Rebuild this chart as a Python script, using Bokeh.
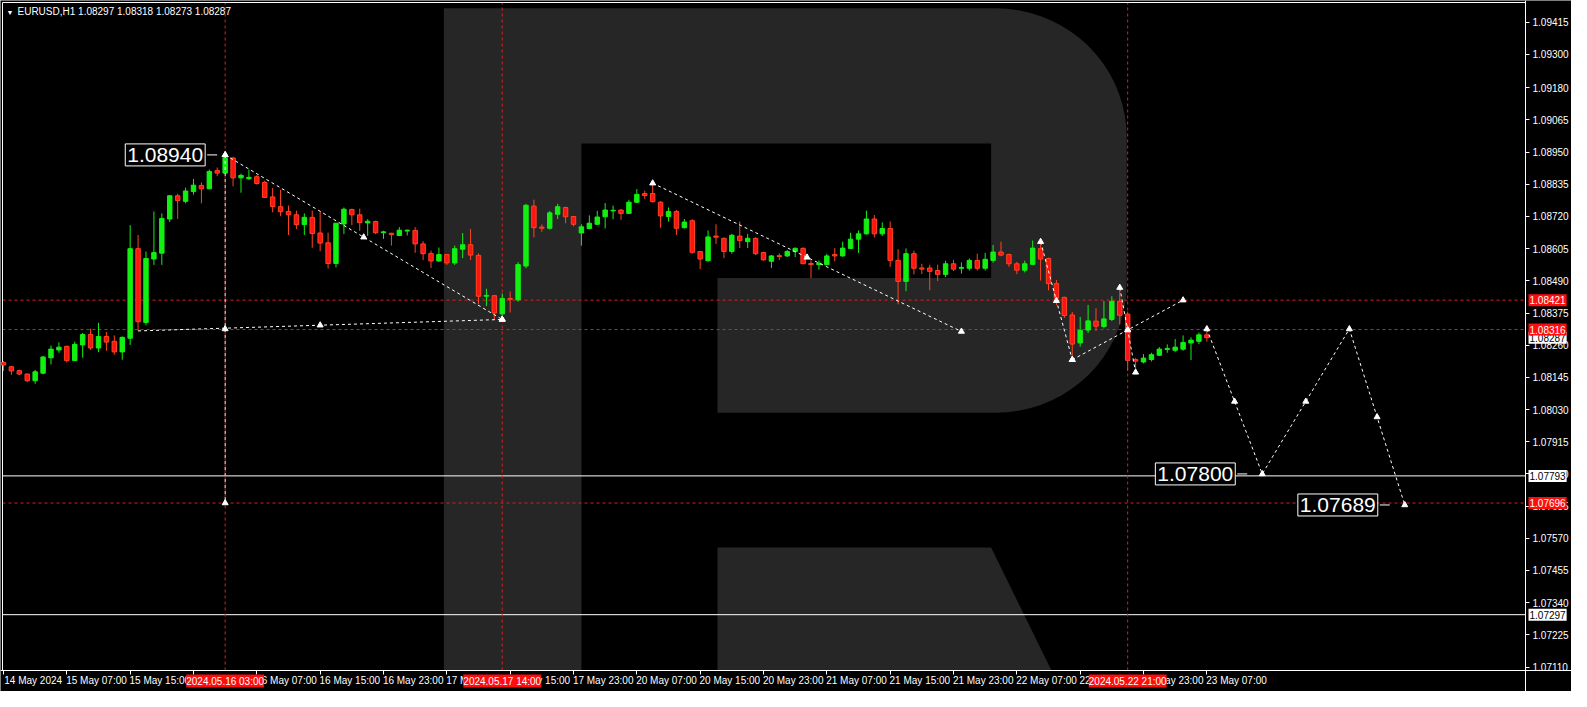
import math
from bokeh.plotting import figure
from bokeh.models import Range1d, LinearAxis, FixedTicker, Label
from bokeh.embed import file_html
from bokeh.resources import INLINE

# ---------------- data ----------------
symbol_title = "EURUSD,H1  1.08297 1.08318 1.08273 1.08287"

opens = [1.08198, 1.08183, 1.08169, 1.08157, 1.08133, 1.08160, 1.08215, 1.08243, 1.08256, 1.08205,
         1.08261, 1.08298, 1.08250, 1.08291, 1.08274, 1.08236, 1.08285, 1.08605, 1.08341, 1.08568,
         1.08589, 1.08711, 1.08794, 1.08774, 1.08809, 1.08831, 1.08819, 1.08884, 1.08875, 1.08929,
         1.08858, 1.08855, 1.08862, 1.08842, 1.08790, 1.08755, 1.08738, 1.08726, 1.08691, 1.08717,
         1.08661, 1.08626, 1.08552, 1.08693, 1.08745, 1.08726, 1.08697, 1.08702, 1.08662, 1.08660,
         1.08652, 1.08668, 1.08670, 1.08622, 1.08588, 1.08561, 1.08584, 1.08554, 1.08603, 1.08619,
         1.08581, 1.08435, 1.08437, 1.08372, 1.08427, 1.08422, 1.08543, 1.08757, 1.08682, 1.08678,
         1.08728, 1.08752, 1.08720, 1.08661, 1.08677, 1.08692, 1.08719, 1.08740, 1.08743, 1.08731,
         1.08771, 1.08802, 1.08802, 1.08771, 1.08720, 1.08738, 1.08680, 1.08705, 1.08595, 1.08562,
         1.08650, 1.08642, 1.08595, 1.08650, 1.08630, 1.08642, 1.08591, 1.08560, 1.08580, 1.08579,
         1.08595, 1.08606, 1.08552, 1.08548, 1.08548, 1.08584, 1.08579, 1.08606, 1.08639, 1.08658,
         1.08711, 1.08658, 1.08677, 1.08563, 1.08488, 1.08587, 1.08536, 1.08536, 1.08527, 1.08513,
         1.08551, 1.08535, 1.08535, 1.08563, 1.08535, 1.08563, 1.08593, 1.08584, 1.08551, 1.08528,
         1.08549, 1.08605, 1.08570, 1.08480, 1.08431, 1.08368, 1.08268, 1.08314, 1.08346, 1.08327,
         1.08352, 1.08417, 1.08371, 1.08209, 1.08200, 1.08209, 1.08224, 1.08245, 1.08242, 1.08246,
         1.08268, 1.08274, 1.08297]
highs = [1.08203, 1.08186, 1.08173, 1.08159, 1.08172, 1.08221, 1.08259, 1.08270, 1.08258, 1.08273,
         1.08304, 1.08319, 1.08340, 1.08307, 1.08295, 1.08291, 1.08689, 1.08654, 1.08595, 1.08738,
         1.08731, 1.08797, 1.08801, 1.08823, 1.08854, 1.08842, 1.08888, 1.08895, 1.08940, 1.08933,
         1.08873, 1.08887, 1.08868, 1.08848, 1.08822, 1.08815, 1.08759, 1.08741, 1.08731, 1.08741,
         1.08738, 1.08662, 1.08696, 1.08752, 1.08748, 1.08748, 1.08710, 1.08705, 1.08669, 1.08662,
         1.08682, 1.08673, 1.08682, 1.08632, 1.08598, 1.08609, 1.08586, 1.08616, 1.08661, 1.08675,
         1.08588, 1.08462, 1.08440, 1.08445, 1.08452, 1.08557, 1.08765, 1.08780, 1.08692, 1.08740,
         1.08765, 1.08755, 1.08722, 1.08692, 1.08724, 1.08740, 1.08768, 1.08759, 1.08746, 1.08780,
         1.08818, 1.08812, 1.08839, 1.08775, 1.08752, 1.08743, 1.08711, 1.08710, 1.08597, 1.08670,
         1.08692, 1.08645, 1.08658, 1.08702, 1.08658, 1.08645, 1.08594, 1.08582, 1.08588, 1.08600,
         1.08610, 1.08610, 1.08563, 1.08563, 1.08587, 1.08607, 1.08630, 1.08662, 1.08670, 1.08741,
         1.08725, 1.08699, 1.08702, 1.08603, 1.08606, 1.08598, 1.08551, 1.08548, 1.08548, 1.08562,
         1.08565, 1.08556, 1.08570, 1.08587, 1.08590, 1.08618, 1.08630, 1.08587, 1.08558, 1.08562,
         1.08634, 1.08630, 1.08573, 1.08493, 1.08433, 1.08379, 1.08361, 1.08404, 1.08392, 1.08418,
         1.08435, 1.08466, 1.08380, 1.08214, 1.08228, 1.08233, 1.08253, 1.08263, 1.08282, 1.08295,
         1.08288, 1.08305, 1.08318]
lows = [1.08168, 1.08154, 1.08153, 1.08128, 1.08122, 1.08156, 1.08191, 1.08233, 1.08198, 1.08203,
        1.08215, 1.08243, 1.08235, 1.08240, 1.08226, 1.08208, 1.08261, 1.08311, 1.08331, 1.08547,
        1.08547, 1.08700, 1.08711, 1.08767, 1.08798, 1.08767, 1.08817, 1.08864, 1.08873, 1.08828,
        1.08805, 1.08850, 1.08834, 1.08788, 1.08735, 1.08721, 1.08654, 1.08675, 1.08654, 1.08608,
        1.08596, 1.08534, 1.08538, 1.08657, 1.08689, 1.08669, 1.08651, 1.08657, 1.08640, 1.08616,
        1.08650, 1.08652, 1.08590, 1.08564, 1.08536, 1.08558, 1.08547, 1.08547, 1.08571, 1.08564,
        1.08407, 1.08400, 1.08352, 1.08352, 1.08377, 1.08415, 1.08535, 1.08645, 1.08665, 1.08673,
        1.08711, 1.08696, 1.08685, 1.08616, 1.08675, 1.08690, 1.08677, 1.08710, 1.08708, 1.08729,
        1.08768, 1.08783, 1.08770, 1.08680, 1.08702, 1.08654, 1.08677, 1.08587, 1.08532, 1.08558,
        1.08622, 1.08571, 1.08587, 1.08607, 1.08607, 1.08582, 1.08562, 1.08536, 1.08564, 1.08575,
        1.08575, 1.08551, 1.08500, 1.08530, 1.08545, 1.08560, 1.08576, 1.08604, 1.08590, 1.08655,
        1.08645, 1.08650, 1.08540, 1.08406, 1.08453, 1.08513, 1.08514, 1.08456, 1.08489, 1.08503,
        1.08525, 1.08516, 1.08527, 1.08527, 1.08527, 1.08555, 1.08578, 1.08540, 1.08514, 1.08520,
        1.08546, 1.08491, 1.08456, 1.08403, 1.08357, 1.08208, 1.08255, 1.08303, 1.08311, 1.08320,
        1.08346, 1.08334, 1.08168, 1.08163, 1.08195, 1.08202, 1.08222, 1.08233, 1.08235, 1.08240,
        1.08207, 1.08264, 1.08273]
closes = [1.08189, 1.08168, 1.08157, 1.08133, 1.08165, 1.08218, 1.08246, 1.08253, 1.08205, 1.08263,
          1.08298, 1.08250, 1.08291, 1.08271, 1.08236, 1.08288, 1.08605, 1.08344, 1.08570, 1.08591,
          1.08713, 1.08794, 1.08777, 1.08811, 1.08832, 1.08819, 1.08881, 1.08875, 1.08929, 1.08858,
          1.08867, 1.08860, 1.08838, 1.08788, 1.08756, 1.08737, 1.08726, 1.08691, 1.08717, 1.08659,
          1.08625, 1.08552, 1.08696, 1.08746, 1.08726, 1.08698, 1.08703, 1.08662, 1.08665, 1.08656,
          1.08671, 1.08671, 1.08622, 1.08587, 1.08561, 1.08584, 1.08554, 1.08605, 1.08619, 1.08582,
          1.08435, 1.08438, 1.08375, 1.08427, 1.08424, 1.08548, 1.08760, 1.08680, 1.08678, 1.08733,
          1.08755, 1.08719, 1.08692, 1.08683, 1.08696, 1.08718, 1.08743, 1.08742, 1.08731, 1.08771,
          1.08799, 1.08795, 1.08773, 1.08722, 1.08738, 1.08678, 1.08700, 1.08592, 1.08568, 1.08647,
          1.08646, 1.08595, 1.08653, 1.08634, 1.08642, 1.08587, 1.08565, 1.08579, 1.08577, 1.08595,
          1.08606, 1.08551, 1.08548, 1.08553, 1.08579, 1.08579, 1.08607, 1.08639, 1.08658, 1.08711,
          1.08658, 1.08677, 1.08563, 1.08488, 1.08587, 1.08535, 1.08532, 1.08524, 1.08513, 1.08551,
          1.08532, 1.08538, 1.08563, 1.08535, 1.08567, 1.08593, 1.08582, 1.08551, 1.08528, 1.08551,
          1.08607, 1.08568, 1.08480, 1.08428, 1.08366, 1.08264, 1.08313, 1.08347, 1.08328, 1.08354,
          1.08417, 1.08367, 1.08206, 1.08203, 1.08214, 1.08226, 1.08246, 1.08248, 1.08253, 1.08270,
          1.08278, 1.08297, 1.08287]

time_tick_bars = [0, 8, 16, 24, 32, 40, 48, 56, 64, 72, 80, 88, 96, 104, 112, 120, 128, 136, 144, 152]
time_tick_labels = ["14 May 2024", "15 May 07:00", "15 May 15:00", "15 May 23:00", "16 May 07:00",
                    "16 May 15:00", "16 May 23:00", "17 May 07:00", "17 May 15:00", "17 May 23:00",
                    "20 May 07:00", "20 May 15:00", "20 May 23:00", "21 May 07:00", "21 May 15:00",
                    "21 May 23:00", "22 May 07:00", "22 May 15:00", "22 May 23:00", "23 May 07:00"]

price_ticks = [1.09415, 1.09300, 1.09180, 1.09065, 1.08950, 1.08835, 1.08720, 1.08605, 1.08490,
               1.08375, 1.08260, 1.08145, 1.08030, 1.07915, 1.07800, 1.07685, 1.07570, 1.07455,
               1.07340, 1.07225, 1.07110]
price_tick_labels = ["1.09415", "1.09300", "1.09180", "1.09065", "1.08950", "1.08835", "1.08720",
                     "1.08605", "1.08490", "1.08375", "1.08260", "1.08145", "1.08030", "1.07915",
                     "1.07800", "1.07685", "1.07570", "1.07455", "1.07340", "1.07225", "1.07110"]

red_levels = [1.08421, 1.08316, 1.07696]
white_levels = [1.07793, 1.07297]
bid_price = 1.08287

marked_bars = [28, 63, 142]
marked_bar_labels = ["2024.05.16 03:00", "2024.05.17 14:00", "2024.05.22 21:00"]

# wave / analysis segments (bar index, price)
wave_x = [[17, 63], [28, 63], [28, 28], [82, 121], [131, 135], [135, 149], [141, 143]]
wave_y = [[1.08311, 1.08352], [1.08940, 1.08352], [1.08940, 1.07696], [1.08839, 1.08309],
          [1.08630, 1.08208], [1.08208, 1.08421], [1.08466, 1.08163]]
forecast_x = [152, 159, 170, 177]
forecast_y = [1.08318, 1.07800, 1.08318, 1.07689]

box_bars = [28, 159, 177]
box_prices = [1.08940, 1.07800, 1.07689]
box_texts = ["1.08940", "1.07800", "1.07689"]

# ---------------- layout / style ----------------
FONT = "Liberation Sans"
BULL = "#12F012"
BEAR_FILL = "#FF1212"
BEAR_LINE = "#FF4420"
RED_LINE = "#E01E1E"
TAG_RED = "#FF0D0D"
LOGO = "#262626"

W, H = 1571, 691                 # canvas
CL, CT, CR, CB = 2, 2, 46, 21    # chart area insets (left, top, right-axis strip, time-axis strip)
CW, CH = W - CL - CR, H - CT - CB

X0, X1 = -0.125, 192.25          # visible bars in the chart area
Y0, Y1 = 1.070975, 1.094847      # visible prices in the chart area
ppb = CW / (X1 - X0)
ppy = CH / (Y1 - Y0)

p = figure(frame_width=W, frame_height=H,
           x_range=Range1d(X0 - CL / ppb, X1 + CR / ppb),
           y_range=Range1d(Y0 - CB / ppy, Y1 + CT / ppy),
           output_backend="svg", toolbar_location=None,
           x_axis_location=None, y_axis_location=None,
           background_fill_color="black", border_fill_color="black",
           min_border=0, outline_line_color=None)
p.xgrid.grid_line_color = None
p.ygrid.grid_line_color = None

# ---- watermark logo (decoration, in reference-frame pixel space) ----
def ref_to_data(px, py):
    return (X0 + (px - 2) / 1539 * (X1 - X0), Y1 - (py - 2) / 684 * (Y1 - Y0))

bowl = [(448, 8), (1006, 8)]
for k in range(0, 19):
    t = math.radians(90 - k * 5)
    bowl.append((1006 + 132 * math.cos(t), 140 - 132 * math.sin(t)))
for k in range(0, 19):
    t = math.radians(-k * 5)
    bowl.append((1006 + 132 * math.cos(t), 290 - 132 * math.sin(t)))
bowl += [(724.5, 422), (724.5, 284), (1001, 284), (1001, 146.5), (587, 146.5), (587, 686), (448, 686)]
leg = [(724.5, 560), (1001, 560), (1062, 686), (724.5, 686)]
lxs, lys = [], []
for shape in (bowl, leg):
    pts = [ref_to_data(a, b) for a, b in shape]
    lxs.append([q[0] for q in pts])
    lys.append([q[1] for q in pts])
p.patches(lxs, lys, fill_color=LOGO, line_color=None, level="image")

# ---- chart border (left, top) ----
p.segment(x0=[X0, X0], y0=[Y0, Y1], x1=[X0, X1], y1=[Y1, Y1], line_color="white", line_width=1)

# ---- horizontal / vertical level lines ----
p.segment(x0=[X0] * len(red_levels), x1=[X1] * len(red_levels), y0=red_levels, y1=red_levels,
          line_color=RED_LINE, line_dash="3 3", line_width=1, level="underlay")
p.segment(x0=[X0] * len(white_levels), x1=[X1] * len(white_levels), y0=white_levels, y1=white_levels,
          line_color="white", line_width=1, level="underlay")
p.segment(x0=marked_bars, x1=marked_bars, y0=[Y0] * len(marked_bars), y1=[Y1] * len(marked_bars),
          line_color=RED_LINE, line_dash="3 3", line_width=1, level="underlay")

# ---- candles ----
idx = list(range(len(opens)))
up = [i for i in idx if closes[i] >= opens[i]]
dn = [i for i in idx if closes[i] < opens[i]]
p.segment(x0=up, x1=up, y0=[lows[i] for i in up], y1=[highs[i] for i in up], line_color=BULL, line_width=1)
p.segment(x0=dn, x1=dn, y0=[lows[i] for i in dn], y1=[highs[i] for i in dn], line_color=BEAR_LINE, line_width=1)
p.vbar(x=up, width=0.56, top=[closes[i] for i in up], bottom=[opens[i] for i in up],
       fill_color=BULL, line_color=BULL, line_width=1)
p.vbar(x=dn, width=0.56, top=[opens[i] for i in dn], bottom=[closes[i] for i in dn],
       fill_color=BEAR_FILL, line_color=BEAR_LINE, line_width=1)

# ---- wave lines and forecast ----
mk_x, mk_y = [], []
for n, (xs, ys) in enumerate(zip(wave_x, wave_y)):
    p.line(xs, ys, line_color="white", line_width=1, line_dash="3 3")
    mk_x += ([xs[1]] if n == 0 else xs) + [(xs[0] + xs[1]) / 2]
    mk_y += ([ys[1]] if n == 0 else ys) + [(ys[0] + ys[1]) / 2]
p.line(forecast_x, forecast_y, line_color="white", line_width=1, line_dash="3 3")
for k in range(len(forecast_x) - 1):
    mk_x += [forecast_x[k], (forecast_x[k] + forecast_x[k + 1]) / 2]
    mk_y += [forecast_y[k], (forecast_y[k] + forecast_y[k + 1]) / 2]
mk_x.append(forecast_x[-1]); mk_y.append(forecast_y[-1])
p.scatter(mk_x, mk_y, marker="triangle", size=6, fill_color="white", line_color="white")

# ---- boxed price labels ----
box_gap = [18, 25, 25]
conn_end = [8, 15, 15]
for b, pr, t, g, e in zip(box_bars, box_prices, box_texts, box_gap, conn_end):
    p.segment(x0=[b - g / ppb], x1=[b - e / ppb], y0=[pr], y1=[pr], line_color="white", line_width=1)
    p.add_layout(Label(x=b, y=pr, x_offset=-g - 2, text=t, text_align="right", text_baseline="middle",
                       text_font=FONT, text_font_size="21px", text_color="white",
                       background_fill_color="black", border_line_color="white",
                       border_line_width=1, padding=(2, 4)))

# ---- axes (fixed at the chart-area edges) ----
yaxis = LinearAxis(fixed_location=X1, ticker=FixedTicker(ticks=price_ticks),
                   major_label_overrides={t: s for t, s in zip(price_ticks, price_tick_labels)},
                   axis_line_color="white", major_tick_line_color="white",
                   major_tick_out=4, major_tick_in=0, minor_tick_line_color=None,
                   major_label_text_color="white", major_label_text_font=FONT,
                   major_label_text_font_size="10px", major_label_standoff=3)
p.add_layout(yaxis, "right")

xaxis_ticks = LinearAxis(fixed_location=Y0, ticker=FixedTicker(ticks=time_tick_bars),
                         major_label_overrides={t: "" for t in time_tick_bars},
                         axis_line_color="white", major_tick_line_color="white",
                         major_tick_out=4, major_tick_in=0, minor_tick_line_color=None,
                         major_label_text_font_size="1px", major_label_standoff=0)
p.add_layout(xaxis_ticks, "below")
label_shift = 3.75
shifted = [t + label_shift for t in time_tick_bars]
xaxis_labels = LinearAxis(fixed_location=Y0, ticker=FixedTicker(ticks=shifted),
                          major_label_overrides={t: s for t, s in zip(shifted, time_tick_labels)},
                          axis_line_color=None, major_tick_line_color=None,
                          major_tick_out=0, major_tick_in=0, minor_tick_line_color=None,
                          major_label_text_color="white", major_label_text_font=FONT,
                          major_label_text_font_size="10px", major_label_standoff=4)
p.add_layout(xaxis_labels, "below")

# ---- tags on the price axis ----
def tag(price, bg, fg):
    p.add_layout(Label(x=X1, y=price, x_offset=3, text="%.5f" % price, text_align="left",
                       text_baseline="middle", text_font=FONT, text_font_size="10px",
                       text_color=fg, background_fill_color=bg, padding=(1, 2)))
tag(bid_price, "white", "black")
for lv in white_levels:
    tag(lv, "white", "black")
for lv in red_levels:
    tag(lv, TAG_RED, "white")

# ---- tags on the time axis ----
for b, t in zip(marked_bars, marked_bar_labels):
    p.add_layout(Label(x=b, y=Y0, y_offset=-4, text=t, text_align="center", text_baseline="top",
                       text_font=FONT, text_font_size="10px", text_color="white",
                       background_fill_color=TAG_RED, padding=(0, 1)))

# ---- title ----
p.add_layout(Label(x=X0, y=Y1, x_offset=4, y_offset=-6, text="\u25bc", text_baseline="top",
                   text_font=FONT, text_font_size="7px", text_color="white"))
p.add_layout(Label(x=X0, y=Y1, x_offset=15, y_offset=-3, text=symbol_title, text_baseline="top",
                   text_font=FONT, text_font_size="10px", text_color="white"))

open("out.html", "w").write(file_html(p, INLINE))
